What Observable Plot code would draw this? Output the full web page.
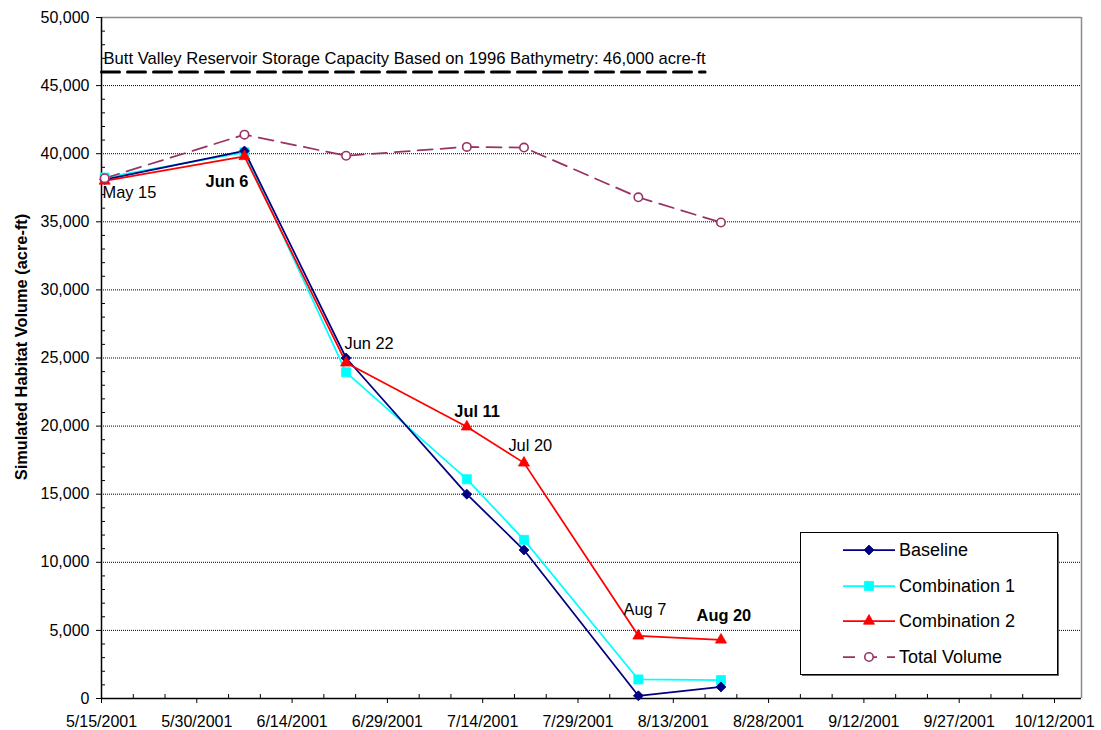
<!DOCTYPE html>
<html><head><meta charset="utf-8">
<script src="https://cdn.jsdelivr.net/npm/d3@7"></script>
<script src="https://cdn.jsdelivr.net/npm/@observablehq/plot@0.6"></script>
<style>
html,body{margin:0;padding:0;background:#fff;}
#chart{width:1101px;height:730px;}
</style></head><body><div id="chart"></div>
<script>
// ---- data ----
const dates = ["2001-05-15","2001-06-06","2001-06-22","2001-07-11","2001-07-20","2001-08-07","2001-08-20"];
const seriesNames = ["Baseline","Combination 1","Combination 2","Total Volume"];
const baseline     = [38100, 40200, 25000, 15000, 10900,  200,   850];
const combination1 = [38250, 40100, 23950, 16100, 11650, 1400,  1350];
const combination2 = [38000, 39800, 24650, 19950, 17300, 4600,  4300];
const totalVolume  = [38200, 41400, 39850, 40500, 40450, 36800, 34950];

const xTickLabels = ["5/15/2001","5/30/2001","6/14/2001","6/29/2001","7/14/2001","7/29/2001","8/13/2001","8/28/2001","9/12/2001","9/27/2001","10/12/2001"];
const yTickLabels = ["0","5,000","10,000","15,000","20,000","25,000","30,000","35,000","40,000","45,000","50,000"];

const capacityValue = 46000;
const capacityDates = ["2001-05-15","2001-08-18"];
const capacityText = "Butt Valley Reservoir Storage Capacity Based on 1996 Bathymetry: 46,000 acre-ft";
const capacityTextValue = 47000;

const annoLabels = ["May 15","Jun 6","Jun 22","Jul 11","Jul 20","Aug 7","Aug 20"];
const annoDates  = ["2001-05-15T04:00","2001-06-07T03:00","2001-06-22T06:00","2001-07-09T13:00","2001-07-18T01:00","2001-08-05T04:00","2001-08-16T16:00"];
const annoValues = [37100, 37950, 26080, 21090, 18550, 6520, 6060];
const annoBold   = ["Jun 6","Jul 11","Aug 20"];

const yTitle = "Simulated Habitat Volume (acre-ft)";

// ---- build ----
const font = "'Liberation Sans', Arial, sans-serif";
const parseTick = d3.utcParse("%m/%d/%Y");
const xTicks = xTickLabels.map(parseTick);
const xStart = xTicks[0];
const xEnd = new Date(Date.UTC(2001, 9, 16, 6));
const xMinor = d3.range(0, 151, 5).map(d => d3.utcDay.offset(xStart, d)).filter(d => !xTicks.some(t => +t === +d));
const yTicks = yTickLabels.map(s => +s.replace(/,/g, ""));
const yMinor = d3.range(0, 50001, 1000).filter(v => v % 5000 !== 0);

const toDate = s => new Date(s.length > 10 ? s + "Z" : s + "T12:00Z");
const valuesBySeries = [baseline, combination1, combination2, totalVolume];
const rows = seriesNames.map((name, i) => dates.map((d, j) => ({series: name, date: toDate(d), value: valuesBySeries[i][j]})));

const styles = {
  "Baseline":      {color: "#000080", symbol: "diamond2", r: 4.5, fill: "#000080", dash: null},
  "Combination 1": {color: "#00FFFF", symbol: "square",   r: 5.1, fill: "#00FFFF", dash: null},
  "Combination 2": {color: "#FF0000", symbol: "triangle", r: 4.1, fill: "#FF0000", dash: null},
  "Total Volume":  {color: "#993366", symbol: "circle",   r: 4.2, fill: "white",   dash: "15,8"}
};
const drawOrder = ["Combination 1", "Baseline", "Combination 2", "Total Volume"];

const annos = annoLabels.map((l, i) => ({label: l, date: new Date(annoDates[i] + "Z"), value: annoValues[i]}));
const capRows = capacityDates.map(d => ({date: new Date(d + "T00:00Z"), value: capacityValue}));

const marks = [
  Plot.gridY(yTicks.filter(v => v > 0 && v < 50000), {stroke: "#000", strokeOpacity: 1, strokeDasharray: "1,1", strokeWidth: 1}),
  Plot.ruleY([50000], {stroke: "#8c8c8c", strokeWidth: 1.5}),
  Plot.ruleX([xEnd], {stroke: "#8c8c8c", strokeWidth: 1.5}),
  Plot.axisY(yTicks, {tickSize: 5, tickPadding: 7, fontSize: 16, tickFormat: d => yTickLabels[yTicks.indexOf(d)], label: null}),
  Plot.axisY(yMinor, {tickSize: -4, tickFormat: () => "", label: null}),
  Plot.axisX(xTicks, {tickSize: 5, tickPadding: 12, fontSize: 16, tickFormat: d => xTickLabels[xTicks.findIndex(t => +t === +d)], label: null}),
  Plot.axisX(xMinor, {tickSize: -4, tickFormat: () => "", label: null}),
  Plot.ruleX([xStart], {stroke: "#000", strokeWidth: 1.5}),
  Plot.ruleY([0], {stroke: "#000", strokeWidth: 1.5}),
  Plot.line(capRows, {x: "date", y: "value", stroke: "#000", strokeWidth: 3, strokeDasharray: "18,8"}),
  Plot.text([capacityText], {x: () => xStart, y: () => capacityTextValue, text: d => d, textAnchor: "start", dx: 2, fontSize: 16.6, fill: "#000"})
];
for (const name of drawOrder) {
  const st = styles[name];
  const data = rows[seriesNames.indexOf(name)];
  marks.push(Plot.line(data, {x: "date", y: "value", stroke: st.color, strokeWidth: 1.75, strokeDasharray: st.dash}));
}
for (const name of drawOrder) {
  const st = styles[name];
  const data = rows[seriesNames.indexOf(name)];
  marks.push(Plot.dot(data, {x: "date", y: "value", symbol: () => st.symbol, r: st.r, fill: st.fill, stroke: st.color, strokeWidth: name === "Total Volume" ? 1.6 : 0.8}));
}
for (const a of annos) {
  marks.push(Plot.text([a], {x: "date", y: "value", text: "label",
    textAnchor: a.label === "Jun 6" ? "end" : "start",
    fontSize: 16.4, fontWeight: annoBold.includes(a.label) ? "bold" : "normal", fill: "#000"}));
}
marks.push(Plot.text([yTitle], {frameAnchor: "left", textAnchor: "middle", dx: -80, dy: -11, rotate: -90, fontSize: 16.4, fontWeight: "bold", fill: "#000", text: d => d}));

const chart = Plot.plot({
  width: 1101, height: 730,
  marginLeft: 101, marginRight: 20, marginTop: 17, marginBottom: 32,
  style: {fontFamily: font, fontSize: "16px", color: "#000", background: "#fff"},
  x: {type: "utc", domain: [xStart, xEnd]},
  y: {domain: [0, 50000]},
  symbol: {type: "identity"},
  marks
});
document.getElementById("chart").appendChild(chart);

// ---- legend (inside plot area) ----
const svg = d3.select(chart);
const lg = svg.append("g").attr("font-family", font).attr("text-anchor", "start");
lg.append("rect").attr("x", 802).attr("y", 534).attr("width", 257).attr("height", 142).attr("fill", "#666");
lg.append("rect").attr("x", 800.5).attr("y", 532.5).attr("width", 257).attr("height", 142)
  .attr("fill", "#fff").attr("stroke", "#000").attr("stroke-width", 1);
const legendY = [550, 586, 621, 657];
seriesNames.forEach((name, i) => {
  const st = styles[name];
  const y = legendY[i];
  lg.append("line").attr("x1", 843).attr("x2", 895).attr("y1", y).attr("y2", y)
    .attr("stroke", st.color).attr("stroke-width", 1.75).attr("stroke-dasharray", st.dash ? "12,10" : null);
  const sym = {diamond2: d3.symbolDiamond2, square: d3.symbolSquare, triangle: d3.symbolTriangle, circle: d3.symbolCircle}[st.symbol];
  lg.append("path").attr("d", d3.symbol(sym, st.r * st.r * Math.PI)())
    .attr("transform", `translate(869,${y})`)
    .attr("fill", st.fill).attr("stroke", st.color).attr("stroke-width", name === "Total Volume" ? 1.6 : 0.8);
  lg.append("text").attr("x", 899).attr("y", y).attr("dy", "0.35em").attr("font-size", 18).attr("fill", "#000").text(name);
});
</script></body></html>
